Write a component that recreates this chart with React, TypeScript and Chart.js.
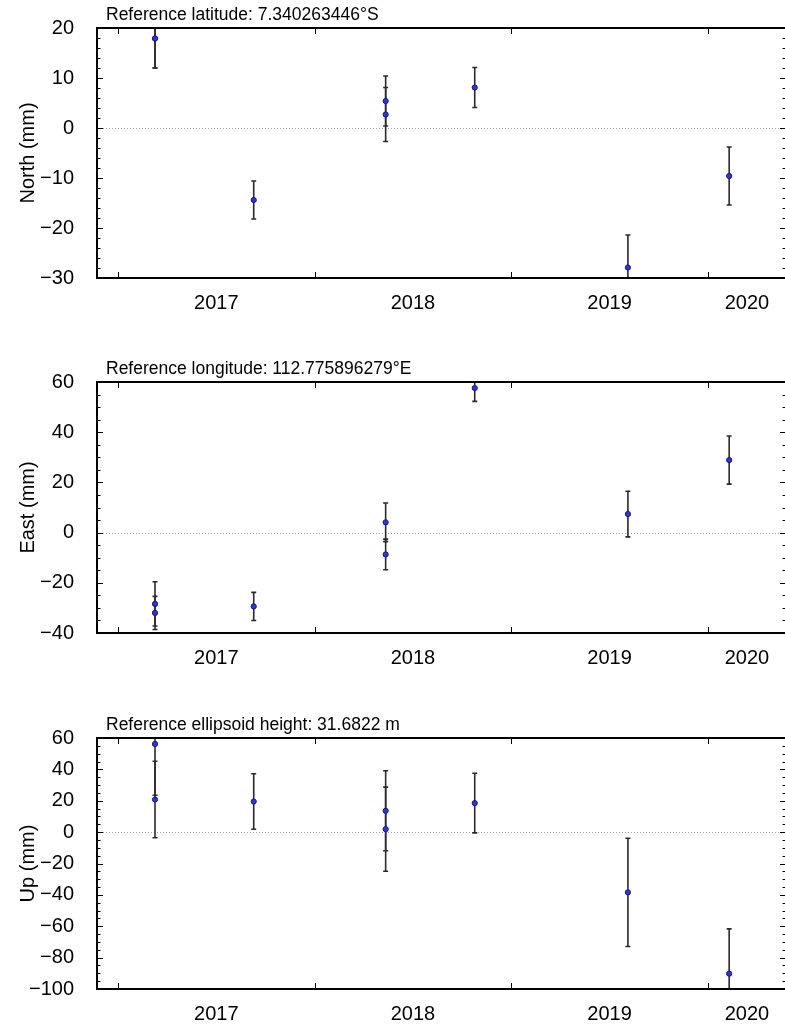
import React, { useEffect, useRef } from "react";
import { Chart, registerables } from "chart.js";

Chart.register(...registerables);

// ---- data (decimal years) ----
const epochs = [2017.188, 2017.188, 2017.69, 2018.361, 2018.361, 2018.814, 2019.593, 2020.108];

const northValues = [17.9, 17.9, -14.4, 5.4, 2.7, 8.1, -27.9, -9.6];
const northErrors = [5.9, 5.9, 3.8, 5.0, 5.4, 4.0, 6.5, 5.8];

const eastValues = [-28.4, -32.0, -29.4, 4.1, -8.7, 57.6, 7.4, 28.9];
const eastErrors = [8.8, 6.6, 5.6, 7.7, 6.1, 5.3, 9.1, 9.6];

const upValues = [56.2, 20.8, 19.5, 13.6, 1.9, 18.5, -38.4, -90.2];
const upErrors = [32.7, 24.4, 17.7, 25.5, 26.8, 19.0, 34.5, 28.5];

const yearLabels = ["2017", "2018", "2019", "2020"];
const yearStarts = [2017, 2018, 2019, 2020];
const xMin = 2016.893;
const xMax = 2020.397;

const FONT = "'Liberation Sans', Arial, Helvetica, sans-serif";

type PanelProps = {
  title: string;
  yLabel: string;
  values: number[];
  errors: number[];
  yMin: number;
  yMax: number;
  yStep: number;
  yMinor: number;
  top: number;
  plotHeight: number;
};

const PAD_TOP = 28;
const X_AXIS_H = 36;
const CANVAS_W = 787;

function fmt(v: number) {
  return v < 0 ? "\u2212" + Math.abs(v) : String(v);
}

function Panel(p: PanelProps) {
  const ref = useRef<HTMLCanvasElement | null>(null);
  const height = PAD_TOP + p.plotHeight + X_AXIS_H;

  useEffect(() => {
    if (!ref.current) return;
    const labelPositions = yearStarts.map((y) => Math.min(y + 1, xMax) / 2 + y / 2);

    const framePlugin = {
      id: "gmtFrame",
      beforeDatasetsDraw(chart: any) {
        const { ctx, chartArea } = chart;
        const xs = chart.scales.x;
        const ys = chart.scales.y;
        ctx.save();
        // zero line
        const y0 = ys.getPixelForValue(0);
        ctx.strokeStyle = "#a0a0a0";
        ctx.lineWidth = 1;
        ctx.setLineDash([1, 2]);
        ctx.beginPath();
        ctx.moveTo(chartArea.left, Math.round(y0) + 0.5);
        ctx.lineTo(chartArea.right, Math.round(y0) + 0.5);
        ctx.stroke();
        ctx.setLineDash([]);
        // error bars
        ctx.beginPath();
        ctx.rect(chartArea.left, chartArea.top, chartArea.right - chartArea.left, chartArea.bottom - chartArea.top);
        ctx.clip();
        ctx.strokeStyle = "#2a2a2a";
        ctx.lineWidth = 1.6;
        const ds = chart.data.datasets[0];
        ds.data.forEach((pt: any, i: number) => {
          const e = ds.errors[i];
          const px = xs.getPixelForValue(pt.x);
          const pLo = ys.getPixelForValue(pt.y - e);
          const pHi = ys.getPixelForValue(pt.y + e);
          ctx.beginPath();
          ctx.moveTo(px, pLo);
          ctx.lineTo(px, pHi);
          ctx.moveTo(px - 2.5, pLo);
          ctx.lineTo(px + 2.5, pLo);
          ctx.moveTo(px - 2.5, pHi);
          ctx.lineTo(px + 2.5, pHi);
          ctx.stroke();
        });
        ctx.restore();
      },
      afterDraw(chart: any) {
        const { ctx, chartArea } = chart;
        const xs = chart.scales.x;
        const ys = chart.scales.y;
        const { left, right, top, bottom } = chartArea;
        ctx.save();
        // y ticks (inside, both sides)
        ctx.strokeStyle = "#000";
        ctx.lineWidth = 1;
        const n = Math.round((p.yMax - p.yMin) / p.yMinor);
        for (let k = 1; k < n; k++) {
          const v = p.yMin + k * p.yMinor;
          const isMajor = Math.abs(v / p.yStep - Math.round(v / p.yStep)) < 1e-6;
          const len = isMajor ? 6 : 3.5;
          const py = Math.round(ys.getPixelForValue(v)) + 0.5;
          ctx.beginPath();
          ctx.moveTo(left, py);
          ctx.lineTo(left + len, py);
          ctx.moveTo(right, py);
          ctx.lineTo(right - len, py);
          ctx.stroke();
        }
        // x ticks at year boundaries
        yearStarts.forEach((yr) => {
          const px = Math.round(xs.getPixelForValue(yr)) + 0.5;
          ctx.beginPath();
          ctx.moveTo(px, top);
          ctx.lineTo(px, top + 6);
          ctx.moveTo(px, bottom);
          ctx.lineTo(px, bottom - 6);
          ctx.stroke();
        });
        // frame
        ctx.lineWidth = 2;
        ctx.lineCap = "square";
        ctx.beginPath();
        ctx.moveTo(right, top);
        ctx.lineTo(left, top);
        ctx.lineTo(left, bottom);
        ctx.lineTo(right, bottom);
        ctx.lineTo(right, top);
        ctx.stroke();
        // panel title
        ctx.fillStyle = "#000";
        ctx.font = `17.5px ${FONT}`;
        ctx.textAlign = "left";
        ctx.textBaseline = "alphabetic";
        ctx.fillText(p.title, left + 9, top - 8);
        ctx.restore();
      },
    };

    const chart = new Chart(ref.current, {
      type: "scatter",
      data: {
        datasets: [
          {
            data: epochs.map((x, i) => ({ x, y: p.values[i] })),
            errors: p.errors,
            pointRadius: 2.6,
            pointBackgroundColor: "#3434d2",
            pointBorderColor: "#14148c",
            pointBorderWidth: 1,
            showLine: false,
          } as any,
        ],
      },
      options: {
        animation: false,
        responsive: false,
        devicePixelRatio: 1,
        layout: { autoPadding: false, padding: { top: PAD_TOP, right: 1, left: 0, bottom: 0 } },
        plugins: { legend: { display: false }, tooltip: { enabled: false }, title: { display: false } },
        scales: {
          x: {
            type: "linear",
            min: xMin,
            max: xMax,
            grid: { display: false },
            border: { display: false },
            afterBuildTicks: (scale: any) => {
              scale.ticks = labelPositions.map((v) => ({ value: v }));
            },
            afterFit: (scale: any) => {
              scale.height = X_AXIS_H;
              scale.paddingLeft = 0;
              scale.paddingRight = 0;
            },
            ticks: {
              autoSkip: false,
              maxRotation: 0,
              padding: 5,
              color: "#000",
              font: { family: FONT, size: 20 },
              callback: (_v: any, i: number) => yearLabels[i],
            },
          },
          y: {
            min: p.yMin,
            max: p.yMax,
            grid: { display: false },
            border: { display: false },
            afterFit: (scale: any) => {
              scale.width = 97;
              scale.paddingTop = 0;
              scale.paddingBottom = 0;
            },
            ticks: {
              stepSize: p.yStep,
              padding: 15,
              color: "#000",
              font: { family: FONT, size: 20 },
              callback: (v: any) => fmt(Number(v)),
            },
            title: {
              display: true,
              text: p.yLabel,
              color: "#000",
              font: { family: FONT, size: 20 },
              padding: { top: 16, bottom: 0 },
            },
          },
        },
      },
      plugins: [framePlugin],
    } as any);
    return () => chart.destroy();
  }, []);

  return (
    <canvas
      ref={ref}
      width={CANVAS_W}
      height={height}
      style={{ position: "absolute", left: 0, top: p.top - PAD_TOP, width: CANVAS_W, height }}
    />
  );
}

export default function App() {
  return (
    <div
      style={{
        position: "absolute",
        left: 0,
        top: 0,
        width: 785,
        height: 1025,
        overflow: "hidden",
        background: "#fff",
      }}
    >
      <Panel
        title="Reference latitude: 7.340263446°S"
        yLabel="North (mm)"
        values={northValues}
        errors={northErrors}
        yMin={-30}
        yMax={20}
        yStep={10}
        yMinor={2}
        top={28}
        plotHeight={250}
      />
      <Panel
        title="Reference longitude: 112.775896279°E"
        yLabel="East (mm)"
        values={eastValues}
        errors={eastErrors}
        yMin={-40}
        yMax={60}
        yStep={20}
        yMinor={5}
        top={382}
        plotHeight={251}
      />
      <Panel
        title="Reference ellipsoid height: 31.6822 m"
        yLabel="Up (mm)"
        values={upValues}
        errors={upErrors}
        yMin={-100}
        yMax={60}
        yStep={20}
        yMinor={5}
        top={738}
        plotHeight={251}
      />
    </div>
  );
}
